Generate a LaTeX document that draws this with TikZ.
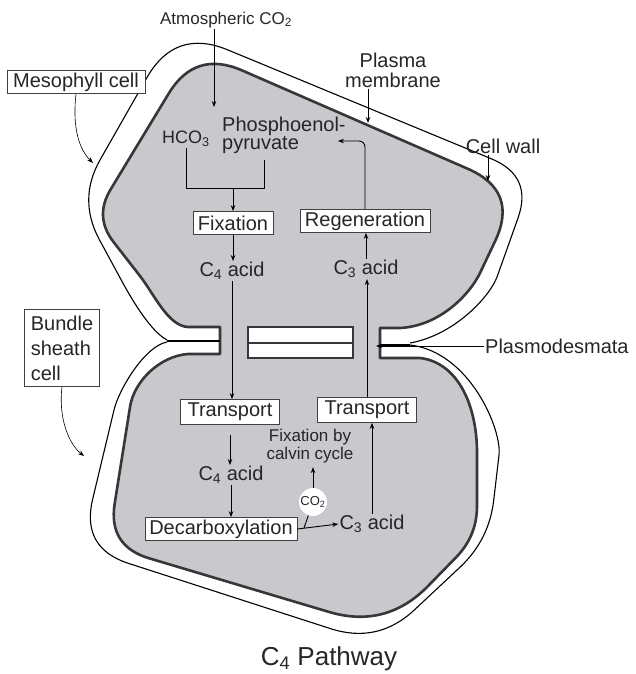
\documentclass[tikz,border=0pt]{standalone}
\usepackage{fontspec}
\setmainfont{Liberation Sans}
\usetikzlibrary{arrows.meta,calc}
\definecolor{cytogray}{RGB}{200,200,205}
\definecolor{membranegray}{RGB}{55,55,55}
\tikzset{
    c4box/.style={draw=black!75, line width=0.7pt, fill=white, align=center, font=\fontsize{20}{22}\selectfont, inner sep=1pt, minimum height=23pt},
    c4label/.style={align=center, font=\fontsize{20}{22}\selectfont, inner sep=1pt},
    c4note/.style={align=center, font=\fontsize{17}{18}\selectfont, inner sep=1pt},
    c4arrow/.style={-{Stealth[length=6pt,width=4.5pt]}, line width=0.9pt},
    c4line/.style={line width=0.9pt},
    cellwall/.style={line width=1.1pt, line join=round},
    cellmembrane/.style={draw=membranegray, line width=2.6pt, fill=cytogray, line join=round}
}

\begin{document}
\begin{tikzpicture}[x=1pt, y=-1pt, text=black!85]
    \useasboundingbox (0,0) rectangle (636,674);
    % cell walls
    \draw[cellwall] (167,340) .. controls (148,330) and (126,289) .. (118,274)
        -- (99,239) .. controls (85,212.3) and (85.3,186) .. (100,160)
        -- (146.7,78) .. controls (165.6,44.7) and (192.7,35.3) .. (228,50)
        -- (491.4,158.8) .. controls (519.1,170.3) and (528,190.1) .. (517.9,218.4)
        -- (497,277) .. controls (490,296) and (455,335) .. (410,343);
    \draw[cellwall] (167,342) .. controls (145,346) and (119,389) .. (114,410)
        -- (92.6,499.4) .. controls (84.9,531.8) and (96.9,553.1) .. (128.6,563.4)
        -- (330.4,628.6) .. controls (362.1,638.9) and (390.2,632.6) .. (414.5,609.8)
        -- (459.8,567.4) .. controls (479.3,549.1) and (490.6,526.8) .. (493.7,500.3)
        -- (499,455) .. controls (502,430) and (470,352) .. (410,345);
    % membranes and cytoplasm
    \path[cellmembrane] (220,354) -- (220,327) -- (188,327) .. controls (168,326) and (154,294) .. (140,276)
        -- (113.7,242.2) .. controls (100.6,225.4) and (99.5,207.9) .. (110.5,189.6)
        -- (168.6,93.7) .. controls (186.2,64.6) and (210.6,56.8) .. (241.8,70.3)
        -- (467.6,168.7) .. controls (501.9,183.6) and (511,207.9) .. (494.9,241.6)
        -- (480,273) .. controls (470,294) and (440,326) .. (400,328)
        -- (380,328) -- (380,358) -- (420,358) .. controls (455,362) and (476,400) .. (477,450)
        -- (477,506) .. controls (477,526) and (470,543.1) .. (456,557.4)
        -- (428,586.1) .. controls (400,614.7) and (366.8,623.3) .. (328.5,611.8)
        -- (149.2,558.3) .. controls (121.7,550.1) and (110.2,531.8) .. (114.7,503.5)
        -- (130,407) .. controls (134,381) and (160,356) .. (188,354) -- cycle;
    % plasmodesmata
    \draw[cellwall] (167,341) -- (220,341);
    \draw[cellwall] (380,345) -- (410,345);
    \draw[draw=membranegray, line width=2.6pt, fill=white] (248,327) rectangle (353,358);
    \draw[draw=membranegray, line width=2pt] (248,343) -- (353,343);

    % labels
    \node[c4label, font=\fontsize{17}{20}\selectfont] (atmo) at (226,20) {Atmospheric CO\textsubscript{2}};
    \node[c4box, minimum width=138pt] (meso) at (76,82) {Mesophyll cell};
    \node[c4box, minimum width=75pt, minimum height=77pt, align=left, font=\fontsize{20}{25}\selectfont] (bundle) at (62,348) {Bundle\\sheath\\cell};
    \node[c4label, font=\fontsize{20}{20}\selectfont] (pm) at (393,70) {Plasma\\membrane};
    \node[c4label] (cw) at (503,146) {Cell wall};
    \node[c4label, anchor=west] (pd) at (484,346) {Plasmodesmata};

    % mesophyll cell
    \node[c4label, font=\fontsize{18}{20}\selectfont] (hco) at (186,139) {HCO\textsubscript{3}};
    \node[c4label, align=left, font=\fontsize{20}{15.5}\selectfont, anchor=west] (pep) at (221,135) {Phosphoenol-\\pyruvate};
    \node[c4box, minimum width=80pt] (fix) at (233,223) {Fixation};
    \node[c4label] (c4up) at (232,271) {C\textsubscript{4} acid};
    \node[c4box, minimum width=130pt] (regen) at (365,221) {Regeneration};
    \node[c4label] (c3up) at (366,269) {C\textsubscript{3} acid};

    % bundle sheath cell
    \node[c4box, minimum width=99pt, minimum height=25pt] (tl) at (230,412) {Transport};
    \node[c4box, minimum width=99pt, minimum height=25pt] (tr) at (367,410) {Transport};
    \node[c4label] (c4low) at (231,475) {C\textsubscript{4} acid};
    \node[c4box, minimum width=152pt] (decarb) at (221,529) {Decarboxylation};
    \node[c4label] (c3low) at (372,524) {C\textsubscript{3} acid};
    \node[c4note] (calvin) at (310,446) {Fixation by\\calvin cycle};
    \node[circle, fill=white, minimum size=28pt, inner sep=0pt, font=\fontsize{13}{13}\selectfont] (co2) at (313,502) {CO\textsubscript{2}};

    \node[c4label, font=\fontsize{26}{26}\selectfont] (title) at (329,659) {C\textsubscript{4} Pathway};

    % arrows
    \coordinate (entry) at (214,107);
    \coordinate (join) at (233,188);
    \coordinate (pepdrop) at (264,160);
    \coordinate (pepin) at (338,141);
    \coordinate (split) at (304,528);
    \coordinate (pdtip) at (376,346);
    \coordinate (pmtip) at (368,123);
    \coordinate (cwtip) at (488,181);
    \coordinate (mesotip) at (93,163);
    \coordinate (bundletip) at (84,456);
    \draw[c4arrow] (entry |- atmo.south) -- (entry);
    \draw[c4line] (hco.south) -- (hco.south |- join) -- (pepdrop |- join) -- (pepdrop);
    \draw[c4arrow] (join) -- (fix.north);
    \draw[c4arrow] (fix.south) -- (fix.south |- c4up.north);
    \draw[c4arrow] (c4up.south) -- (c4up.south |- tl.north);
    \draw[c4arrow] (c3up.north) -- (c3up.north |- regen.south);
    \draw[c4arrow, rounded corners=6pt] (regen.north) |- (pepin);
    \draw[c4arrow] (tr.north) -- (tr.north |- c3up.south);
    \draw[c4arrow, shorten <=10pt] (tl.south) -- (tl.south |- c4low.north);
    \draw[c4arrow] (c4low.south) -- (c4low.south |- decarb.north);
    \draw[c4arrow] (decarb.east) -- (c3low.west);
    \draw[c4line] (split) -- (co2);
    \draw[c4arrow, shorten >=3pt] (co2.north) -- (co2.north |- calvin.south);
    \draw[c4arrow] (c3low.north) -- (c3low.north |- tr.south);
    \draw[c4arrow] (pd.west) -- (pdtip);
    \draw[c4arrow] (pmtip |- pm.south) -- (pmtip);
    \draw[c4arrow] (cwtip |- cw.south) -- (cwtip);
    \draw[c4arrow, line width=0.6pt] (meso.south) .. controls (72,130) and (80,150) .. (mesotip);
    \draw[c4arrow, line width=0.6pt] (bundle.south) .. controls (58,420) and (70,445) .. (bundletip);
\end{tikzpicture}
\end{document}
